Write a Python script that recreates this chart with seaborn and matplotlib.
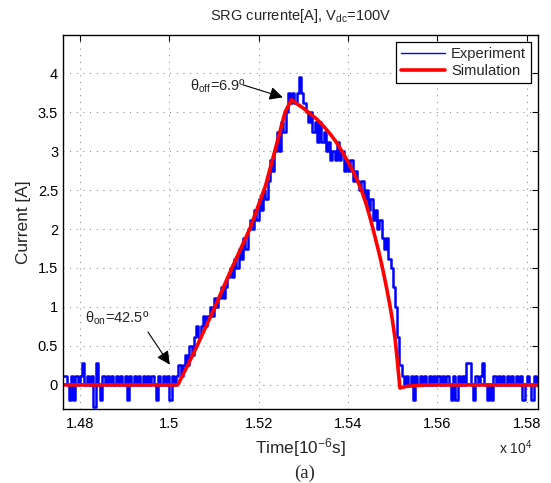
import numpy as np
import pandas as pd
import matplotlib
matplotlib.use('Agg')
import matplotlib.pyplot as plt
from matplotlib.ticker import FuncFormatter
import seaborn as sns

# measured phase current (A), one sample every 5 us starting at t0
exp_t0 = 14765
exp_dt = 5
exp_current = [
    # before turn-on
    0.12, 0, -0.2, 0.12, -0.2, 0.12, 0, 0.12, 0.28, 0,
    0.12, 0, 0.12, -0.28, 0.28, 0, -0.2, 0.12, 0, 0.12,
    0, 0.12, 0, 0.12, 0, 0.12, 0, 0.12, -0.2, 0.12,
    0, 0.12, 0, 0.12, 0, 0.12, 0, 0.12, 0, 0.12,
    0, -0.2, 0.12, 0, 0.12, 0, 0.12, -0.2, 0.12, 0,
    0.12,
    # rise
    0.25, 0.12, 0.25, 0.38, 0.25, 0.5, 0.38, 0.62, 0.75, 0.62,
    0.75, 0.88, 0.75, 0.88, 1.0, 0.88, 1.12, 1.0, 1.12, 1.25,
    1.12, 1.25, 1.38, 1.5, 1.38, 1.62, 1.5, 1.75, 1.62, 1.88,
    1.75, 2.0, 2.12, 2.0, 2.25, 2.12, 2.38, 2.25, 2.5, 2.38,
    2.62, 2.88, 2.75, 3.0, 3.25, 3.0, 3.38, 3.25, 3.5, 3.75,
    3.62,
    # peak and fall
    3.75, 3.62, 3.75, 3.95, 3.75, 3.62, 3.5, 3.38, 3.5, 3.25,
    3.38, 3.12, 3.38, 3.12, 3.25, 3.0, 3.12, 2.88, 3.0, 2.88,
    3.12, 2.88, 3.0, 2.75, 2.88, 2.75, 2.88, 2.62, 2.75, 2.62,
    2.5, 2.62, 2.38, 2.5, 2.25, 2.38, 2.12, 2.25, 2.0, 2.12,
    1.88, 1.75, 1.88, 1.62, 1.5, 1.25, 1.0, 0.62, 0.25, 0.12,
    # after turn-off
    0, 0.12, 0, 0.12, -0.2, 0.12, 0, 0.12, 0, 0.12,
    0, 0.12, 0, 0.12, 0, 0.12, 0, 0.12, 0, 0.12,
    0, -0.2, 0.12, -0.2, 0.12, 0, 0.12, 0, 0.28, 0.28,
    0, -0.2, 0.12, 0, 0.12, 0.28, 0, -0.2, 0, -0.2,
    0.12, 0, 0.12, 0, 0.12, 0, 0.12, 0, 0.12, 0,
    0.12, 0, 0.12, -0.2, 0, 0.12, 0, -0.2, 0.12, 0,
    0.12,
]
exp_t = exp_t0 + exp_dt * np.arange(len(exp_current))

# simulated current
sim_t = [14762, 15019, 15040, 15062, 15102, 15140, 15180, 15215, 15236, 15259,
         15273, 15285, 15300, 15315, 15330, 15345, 15360, 15373, 15386, 15398,
         15410, 15421, 15431, 15440, 15448, 15455, 15462, 15469, 15475, 15481,
         15487, 15493, 15499, 15505, 15510, 15516, 15530, 15550, 15575, 15600,
         15825]
sim_current = [0, 0, 0.24, 0.5, 1.0, 1.5, 2.0, 2.55, 3.0, 3.5,
               3.66, 3.61, 3.55, 3.48, 3.41, 3.32, 3.22, 3.12, 3.0, 2.88,
               2.75, 2.62, 2.48, 2.33, 2.17, 2.02, 1.86, 1.70, 1.55, 1.39,
               1.22, 1.04, 0.84, 0.6, 0.32, -0.04, -0.02, -0.01, 0.0, 0.0,
               0.0]

x_ticks = [14800, 15000, 15200, 15400, 15600, 15800]
y_ticks = [0, 0.5, 1, 1.5, 2, 2.5, 3, 3.5, 4]

exp = pd.DataFrame({'t': exp_t, 'i': exp_current})
sim = pd.DataFrame({'t': sim_t, 'i': sim_current})

sns.set_style('white')
plt.rcParams['font.family'] = ['Liberation Sans', 'DejaVu Sans']
plt.rcParams['mathtext.fontset'] = 'custom'
plt.rcParams['mathtext.rm'] = 'Liberation Sans'
plt.rcParams['mathtext.it'] = 'Liberation Sans:italic'

fig = plt.figure(figsize=(5.51, 4.83), dpi=100)
ax = fig.add_axes([0.1143, 0.1532, 0.8621, 0.7743])

sns.lineplot(data=exp, x='t', y='i', ax=ax, color='#0000ff', lw=1.8,
             estimator=None, sort=False, drawstyle='steps-post', label='Experiment')
sns.lineplot(data=sim, x='t', y='i', ax=ax, color='#ff0000', lw=2.6,
             estimator=None, sort=False, label='Simulation')

ax.set_xlim(14762, 15825)
ax.set_ylim(-0.31, 4.49)
ax.set_xticks(x_ticks)
ax.set_yticks(y_ticks)
ax.xaxis.set_major_formatter(FuncFormatter(lambda v, p: f'{v/1e4:g}'))
ax.yaxis.set_major_formatter(FuncFormatter(lambda v, p: f'{v:g}'))
ax.tick_params(direction='in', top=True, right=True, length=4.5, width=0.8,
               labelsize=10.5, colors='k')
ax.tick_params(axis='x', pad=5.5)
ax.tick_params(axis='y', pad=3.5)
ax.grid(True, linestyle=(0, (1, 7)), color='0.3', linewidth=0.6)
for s in ax.spines.values():
    s.set_color('k')
    s.set_linewidth(1.0)

ax.set_title(r'SRG currente[A], V$_{\mathrm{dc}}$=100V', fontsize=10.5, pad=11)
ax.set_ylabel('Current [A]', fontsize=12.4)
ax.yaxis.set_label_coords(-0.068, 0.5)
ax.set_xlabel(r'Time[10$^{-6}$s]', fontsize=12.4)
ax.xaxis.set_label_coords(0.5, -0.072)

leg = ax.legend(loc='upper right', fontsize=10.6, frameon=True, fancybox=False,
                edgecolor='k', framealpha=1, borderaxespad=0.45, handlelength=3.0,
                handletextpad=0.4, labelspacing=0.2, borderpad=0.35)
leg.get_frame().set_linewidth(0.9)
leg.get_lines()[0].set_linewidth(1.0)

# angle annotations
ax.text(15046, 3.83, r'θ$_{\mathrm{off}}$=6.9º', fontsize=10.5, ha='left', va='center')
ax.annotate('', xy=(15254, 3.69), xytext=(15165, 3.85),
            arrowprops=dict(arrowstyle='-|>', color='k', lw=0.8, mutation_scale=20,
                            shrinkA=0, shrinkB=0))
ax.text(14811, 0.86, r'θ$_{\mathrm{on}}$=42.5º', fontsize=10.5, ha='left', va='center')
ax.annotate('', xy=(15001, 0.26), xytext=(14952, 0.68),
            arrowprops=dict(arrowstyle='-|>', color='k', lw=0.8, mutation_scale=20,
                            shrinkA=0, shrinkB=0))

fig.text(0.967, 0.0725, r'x 10$^{4}$', fontsize=10, ha='right', va='center')
fig.text(0.552, 0.0207, '(a)', fontsize=13.5, family='Liberation Serif',
         ha='center', va='center')

fig.savefig('out.png', dpi=100)
